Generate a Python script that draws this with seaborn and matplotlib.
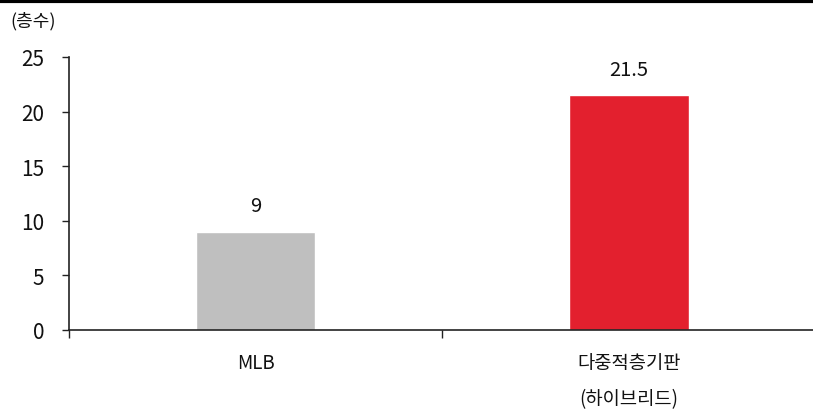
import matplotlib
matplotlib.use("Agg")
import matplotlib.pyplot as plt
from matplotlib.lines import Line2D
from matplotlib.ticker import FixedLocator
import seaborn as sns
import pandas as pd

categories = ["MLB", "다중적층기판\n(하이브리드)"]
layers = [9, 21.5]
bar_colors = ["#BFBFBF", "#E3202E"]
y_ticks = [0, 5, 10, 15, 20, 25]
unit_label = "(층수)"

sns.set_theme(style="white")
plt.rcParams["font.family"] = ["Noto Sans CJK KR", "DejaVu Sans"]

df = pd.DataFrame({"category": categories, "layers": layers})

fig = plt.figure(figsize=(8.13, 4.14), dpi=100)
ax = fig.add_axes([69 / 813, 1 - 331 / 414, 1.003 - 69 / 813, (331 - 58) / 414])

sns.barplot(data=df, x="category", y="layers", hue="category",
            palette=bar_colors, width=0.32, legend=False, ax=ax,
            saturation=1)

for container in ax.containers:
    ax.bar_label(container, fmt="%g", padding=11, fontsize=14.5, color="#111111")

ax.set_ylim(0, 25)
ax.set_xlim(-0.5, 1.5)
ax.set_yticks(y_ticks)
ax.set_xlabel("")
ax.set_ylabel("")

ax.tick_params(axis="y", direction="out", length=5, width=1, color="#222222",
               labelsize=15, pad=13, left=True)
ax.tick_params(axis="x", which="major", length=0, labelsize=13.5, pad=16)
ax.xaxis.set_minor_locator(FixedLocator([-0.5, 0.5]))
ax.tick_params(axis="x", which="minor", direction="out", length=6, width=1,
               color="#222222", bottom=True)
for lbl in ax.get_xticklabels():
    lbl.set_linespacing(1.95)
    lbl.set_color("#111111")
for lbl in ax.get_yticklabels():
    lbl.set_color("#111111")

for side in ["top", "right"]:
    ax.spines[side].set_visible(False)
for side in ["left", "bottom"]:
    ax.spines[side].set_color("#222222")
    ax.spines[side].set_linewidth(1.2)

fig.text(10 / 813, 1 - 21 / 414, unit_label, fontsize=13, va="center",
         ha="left", color="#111111")
fig.add_artist(Line2D([0, 1], [0.996, 0.996], color="black", lw=3,
                      transform=fig.transFigure))

fig.savefig("out.png", dpi=100)
